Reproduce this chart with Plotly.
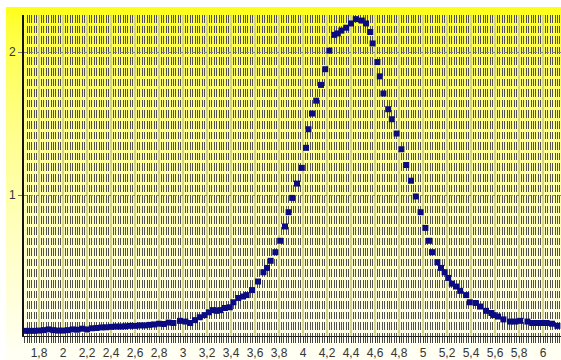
import plotly.graph_objects as go

# ---- data ----
x_vals = [1.68, 1.72, 1.76, 1.80, 1.84, 1.88, 1.92, 1.96, 2.00, 2.04, 2.08, 2.12, 2.16, 2.20,
          2.24, 2.28, 2.32, 2.36, 2.40, 2.44, 2.48, 2.52, 2.56, 2.60, 2.64, 2.68, 2.72, 2.76,
          2.80, 2.84, 2.88, 2.92, 2.975, 3.02, 3.06, 3.10, 3.14, 3.18, 3.215, 3.25, 3.28, 3.31,
          3.35, 3.39, 3.42, 3.46, 3.50, 3.53, 3.575, 3.625, 3.67, 3.70, 3.73, 3.77, 3.81, 3.85,
          3.88, 3.91, 3.95, 3.99, 4.025, 4.045, 4.075, 4.11, 4.15, 4.185, 4.22, 4.26, 4.29, 4.32,
          4.36, 4.40, 4.44, 4.49, 4.525, 4.56, 4.58, 4.62, 4.64, 4.67, 4.71, 4.74, 4.78, 4.82,
          4.86, 4.90, 4.94, 4.98, 5.02, 5.05, 5.075, 5.12, 5.15, 5.18, 5.21, 5.24, 5.275, 5.31,
          5.36, 5.39, 5.44, 5.475, 5.525, 5.57, 5.59, 5.625, 5.67, 5.725, 5.77, 5.81, 5.87, 5.91,
          5.95, 5.99, 6.03, 6.075, 6.12]
y_vals = [0.050, 0.050, 0.050, 0.052, 0.055, 0.060, 0.055, 0.052, 0.052, 0.055, 0.060, 0.058, 0.065, 0.060,
          0.068, 0.070, 0.074, 0.075, 0.078, 0.080, 0.080, 0.082, 0.085, 0.085, 0.088, 0.088, 0.092, 0.095,
          0.100, 0.098, 0.108, 0.105, 0.120, 0.115, 0.105, 0.125, 0.145, 0.160, 0.180, 0.195, 0.190, 0.195,
          0.210, 0.215, 0.250, 0.280, 0.290, 0.300, 0.335, 0.395, 0.460, 0.490, 0.540, 0.600, 0.680, 0.780,
          0.880, 0.980, 1.080, 1.190, 1.330, 1.460, 1.570, 1.660, 1.770, 1.880, 2.010, 2.120, 2.130, 2.150,
          2.170, 2.200, 2.230, 2.220, 2.200, 2.140, 2.060, 1.930, 1.830, 1.710, 1.600, 1.530, 1.430, 1.320,
          1.210, 1.100, 0.990, 0.880, 0.770, 0.680, 0.600, 0.530, 0.490, 0.460, 0.420, 0.380, 0.360, 0.330,
          0.300, 0.250, 0.245, 0.220, 0.190, 0.175, 0.160, 0.150, 0.130, 0.115, 0.115, 0.120, 0.115, 0.105,
          0.105, 0.105, 0.105, 0.100, 0.085]

x_range = [1.675, 6.15]
y_range = [0.014, 2.259]
y_ticks = [1, 2]

W, H = 561, 360
ML, MR, MT, MB = 24, 0, 15, 24

fig = go.Figure()
fig.add_trace(go.Scatter(
    x=x_vals, y=y_vals, mode="markers",
    marker=dict(symbol="square", size=6, color="#0b0b82", line=dict(width=0)),
    hoverinfo="skip", showlegend=False,
))

# yellow gradient panel behind everything (paper coordinates)
plot_w = W - ML - MR
plot_h = H - MT - MB
def px_to_paper_x(px):
    return (px - ML) / plot_w
def py_to_paper_y(py):
    return (H - MB - py) / plot_h

shapes = []
top_py, bot_py = 7, 360
n = 60
for i in range(n):
    t0 = i / n
    t1 = (i + 1) / n
    tm = (t0 + t1) / 2
    b = int(round(15 + 230 * (tm ** 0.6)))
    b = min(b, 245)
    y0 = top_py + (bot_py - top_py) * t0
    y1 = top_py + (bot_py - top_py) * t1 + 0.6
    shapes.append(dict(
        type="rect", xref="paper", yref="paper", layer="below",
        x0=px_to_paper_x(6), x1=px_to_paper_x(W + 2),
        y0=py_to_paper_y(y1), y1=py_to_paper_y(y0),
        fillcolor=f"rgb(255,255,{b})", line=dict(width=0),
    ))

fig.update_layout(
    width=W, height=H,
    margin=dict(l=ML, r=MR, t=MT, b=MB, pad=0),
    paper_bgcolor="white",
    plot_bgcolor="rgba(0,0,0,0)",
    separators=", ",
    shapes=shapes,
    font=dict(family="Liberation Sans Narrow, Arial Narrow, Liberation Sans, sans-serif", size=12, color="#333333"),
)

fig.update_xaxes(
    range=x_range, tick0=0, dtick=0.2, tickformat=".1~f",
    ticks="outside", ticklen=6, tickcolor="#333333", tickwidth=1,
    showgrid=True, gridcolor="#d4d48c", gridwidth=2,
    showline=True, linecolor="#222222", linewidth=1,
    zeroline=False,
    tickfont=dict(size=12, color="#333333"),
    minor=dict(dtick=0.02, tick0=0, ticks="outside", ticklen=6, tickcolor="#444444",
               showgrid=True, gridcolor="#505050", gridwidth=1, griddash="7.6px,3px"),
)
fig.update_yaxes(
    range=y_range, tickvals=y_ticks, ticktext=[str(v) for v in y_ticks],
    ticks="outside", ticklen=4, tickcolor="#777777",
    showgrid=True, gridcolor="#888888", gridwidth=1, griddash="dot",
    showline=True, linecolor="#111111", linewidth=2,
    zeroline=False,
    tickfont=dict(size=12, color="#333333"),
)

fig.write_html("out.html")
